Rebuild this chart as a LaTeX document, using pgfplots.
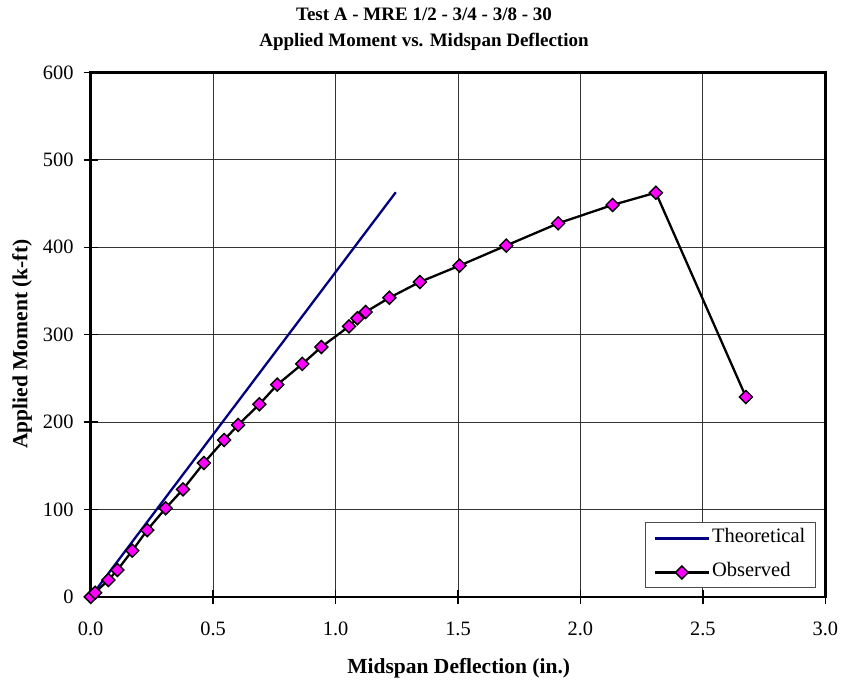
\documentclass[border=0pt]{standalone}
\usepackage{pgfplots}
\pgfplotsset{compat=1.18}
\usepackage{fontspec}
\setmainfont{Liberation Serif}
\definecolor{theo}{RGB}{0,0,128}
\definecolor{mag}{RGB}{255,0,255}
\begin{document}
\begin{tikzpicture}
\path[use as bounding box] (-90.7pt,-88.1pt) rectangle (752.3pt,596.9pt);
\begin{axis}[
  at={(0pt,0pt)}, anchor=south west,
  scale only axis, width=734.6pt, height=524.4pt,
  xmin=0, xmax=3, ymin=0, ymax=600,
  xtick={0,0.5,1,1.5,2,2.5,3}, ytick={0,100,200,300,400,500,600},
  xtick pos=bottom, ytick pos=left,
  tick align=center, major tick length=14pt,
  tick style={black, line width=1.4pt},
  axis line style={black, line width=2.7pt},
  grid=major, major grid style={black!80, line width=0.8pt},
  /pgf/number format/assume math mode=true,
  xticklabel={\pgfmathprintnumber[fixed,fixed zerofill,precision=1]{\tick}},
  yticklabel={\pgfmathprintnumber[fixed,precision=0]{\tick}},
  ticklabel style={font=\fontsize{20.4}{24}\selectfont},
  xticklabel style={anchor=base, inner sep=0pt, yshift=-32pt},
  yticklabel style={anchor=east, inner sep=0pt, xshift=-10pt},
  xlabel={Midspan Deflection (in.)},
  ylabel={Applied Moment (k-ft)},
  label style={font=\bfseries\fontsize{21.5}{24}\selectfont},
  xlabel style={at={(rel axis cs:0.501,0)}, anchor=base, yshift=-76.4pt},
  ylabel style={at={(rel axis cs:0,0.482)}, anchor=base, yshift=63.4pt},
  clip=false,
  legend cell align=left,
  legend image code/.code={\draw[#1, mark repeat=2, mark phase=2] plot coordinates {(0pt,0pt) (27pt,0pt) (54pt,0pt)};},
  legend style={at={(rel axis cs:0.987,0.0164)}, anchor=south east, draw=black!70, line width=0.8pt, fill=white,
    font=\fontsize{20.5}{24}\selectfont, inner xsep=8pt, inner ysep=4pt, row sep=11pt,
    nodes={inner sep=2pt, text height=14pt, text depth=5pt},
    /tikz/every even column/.append style={column sep=4pt}},
]
\addplot[theo, line width=2.3pt] coordinates {(0,0) (1.246,463)};
\addlegendentry{Theoretical}
\addplot[black, line width=2.3pt, mark=square*, mark size=4.6pt,
  mark options={fill=mag, draw=black, line width=1.4pt, rotate=45, solid}] table {
x y
0 0
0.018 4.8
0.072 19.3
0.109 30.8
0.170 52.9
0.231 76.5
0.306 101.4
0.377 123.1
0.462 153.2
0.545 179.5
0.602 196.7
0.689 220.4
0.762 242.8
0.864 266.5
0.942 285.9
1.055 309.6
1.089 318.8
1.123 326.0
1.220 342.3
1.344 360.3
1.506 379.0
1.697 402.0
1.909 427.4
2.131 448.4
2.308 462.5
2.676 228.7
};
\addlegendentry{Observed}
\node[font=\bfseries\fontsize{19}{22}\selectfont, anchor=base] at (rel axis cs:0.4537,1) [yshift=51.5pt] {Test A - MRE 1/2 - 3/4 - 3/8 - 30};
\node[font=\bfseries\fontsize{19}{22}\selectfont, anchor=base] at (rel axis cs:0.4537,1) [yshift=25.5pt] {Applied Moment vs. Midspan Deflection};
\end{axis}
\end{tikzpicture}
\end{document}
